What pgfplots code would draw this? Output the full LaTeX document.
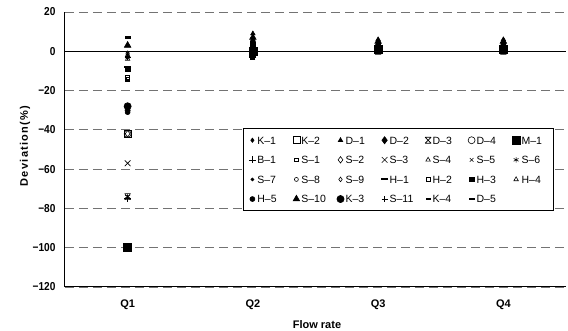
\documentclass[border=0pt]{standalone}
\usepackage{pgfplots}
\pgfplotsset{compat=1.18}
\usepackage{fontspec}
\setmainfont{Liberation Sans}
\newfontfamily\tickfont[FakeStretch=0.88]{Liberation Sans}
\newfontfamily\ylabfont[LetterSpace=12]{Liberation Sans}
\pgfdeclareplotmark{xbar}{%
  \pgfpathmoveto{\pgfqpoint{-\pgfplotmarksize}{-\pgfplotmarksize}}%
  \pgfpathlineto{\pgfqpoint{\pgfplotmarksize}{\pgfplotmarksize}}%
  \pgfpathmoveto{\pgfqpoint{-\pgfplotmarksize}{\pgfplotmarksize}}%
  \pgfpathlineto{\pgfqpoint{\pgfplotmarksize}{-\pgfplotmarksize}}%
  \pgfpathmoveto{\pgfqpoint{-\pgfplotmarksize}{\pgfplotmarksize}}%
  \pgfpathlineto{\pgfqpoint{\pgfplotmarksize}{\pgfplotmarksize}}%
  \pgfpathmoveto{\pgfqpoint{-\pgfplotmarksize}{-\pgfplotmarksize}}%
  \pgfpathlineto{\pgfqpoint{\pgfplotmarksize}{-\pgfplotmarksize}}%
  \pgfusepathqstroke}
\pgfplotsset{pt/.style={black,/tikz/only marks,mark options={solid,line width=0.6pt}}}
\begin{document}
\begin{tikzpicture}
\begin{axis}[
  scale only axis, width=501pt, height=275pt,
  at={(0pt,0pt)}, anchor=south west,
  xmin=0.5, xmax=4.5, ymin=-120, ymax=20,
  xtick={1,2,3,4}, xticklabels={Q1,Q2,Q3,Q4},
  ytick={-120,-100,-80,-60,-40,-20,20},
  yticklabels={−120,−100,−80,−60,−40,−20,20},
  extra y ticks={0}, extra y tick labels={0},
  extra y tick style={grid style={solid,black,line width=0.8pt}},
  axis x line=bottom, axis y line=left,
  axis line style={-,black,line width=1pt},
  ymajorgrids,
  grid style={black!55,line width=0.8pt,dash pattern=on 9pt off 5pt},
  major tick length=0pt,
  xticklabel style={font=\bfseries\fontsize{11}{13}\selectfont,anchor=center,yshift=-18pt},
  yticklabel style={font=\tickfont\bfseries\fontsize{11.5}{13}\selectfont,anchor=east,xshift=-6pt},
  xlabel={Flow rate}, ylabel={Deviation(\%)},
  every axis x label/.style={at={(axis description cs:0.503,-0.138)},anchor=center,font=\bfseries\fontsize{11}{13}\selectfont},
  every axis y label/.style={at={(axis description cs:-0.08,0.513)},anchor=center,rotate=90,font=\ylabfont\bfseries\fontsize{11}{13}\selectfont},
  legend columns=7,
  legend cell align=left,
  legend image code/.code={\draw[mark repeat=2,mark phase=2,#1] plot coordinates {(0pt,0pt)(2pt,0pt)(4pt,0pt)};},
  legend style={at={(axis description cs:0.3553,0.578)},anchor=north west,
    draw=black,line width=0.8pt,fill=white,inner xsep=5.5pt,inner ysep=6pt,
    font=\fontsize{10.5}{12}\selectfont,row sep=8pt,
    nodes={text width=25pt,inner xsep=1.5pt,inner ysep=2pt,text height=7.6pt,text depth=0pt},
    /tikz/every even column/.append style={column sep=9pt}},
]
\addplot[pt,mark=diamond*,mark size=2.2] coordinates {(1,-29)(2,1)(3,1)(4,1)};
\addlegendentry{K–1}
\addplot[pt,mark=square,mark size=3.5] coordinates {(1,-42)(2,0)(3,1)(4,1)};
\addlegendentry{K–2}
\addplot[pt,mark=triangle*,mark size=2.6] coordinates {(1,3)(2,9)(3,6)(4,6)};
\addlegendentry{D–1}
\addplot[pt,mark=diamond*,mark size=3.6] coordinates {(1,-30)(2,2)(3,2)(4,2)};
\addlegendentry{D–2}
\addplot[pt,mark=xbar,mark size=3] coordinates {(1,-74)(2,-1)(3,0)(4,0)};
\addlegendentry{D–3}
\addplot[pt,mark=o,mark size=3.5] coordinates {(1,-42)(2,1)(3,2)(4,1)};
\addlegendentry{D–4}
\addplot[pt,mark=square*,mark size=4] coordinates {(1,-100)(2,0)(3,1)(4,1)};
\addlegendentry{M–1}
\addplot[pt,mark=+,mark size=3.5] coordinates {(1,-75)(2,2)(3,1)(4,2)};
\addlegendentry{B–1}
\addplot[pt,mark=square,mark size=1.8] coordinates {(1,-14)(2,-3)(3,0)(4,0)};
\addlegendentry{S–1}
\addplot[pt,mark=diamond,mark size=3.2] coordinates {(1,-42)(2,3)(3,2)(4,2)};
\addlegendentry{S–2}
\addplot[pt,mark=x,mark size=4] coordinates {(1,-57)(2,1)(3,1)(4,1)};
\addlegendentry{S–3}
\addplot[pt,mark=triangle,mark size=2.6] coordinates {(1,-2)(2,0)(3,1)(4,1)};
\addlegendentry{S–4}
\addplot[pt,mark=x,mark size=2.6] coordinates {(1,-1)(2,-1)(3,0)(4,0)};
\addlegendentry{S–5}
\addplot[pt,mark=asterisk,mark size=2.8] coordinates {(1,-74)(2,0)(3,1)(4,0)};
\addlegendentry{S–6}
\addplot[pt,mark=*,mark size=1.5] coordinates {(1,-28)(2,4)(3,3)(4,3)};
\addlegendentry{S–7}
\addplot[pt,mark=o,mark size=2] coordinates {(1,-3)(2,2)(3,1)(4,1)};
\addlegendentry{S–8}
\addplot[pt,mark=diamond,mark size=2.3] coordinates {(1,-1)(2,1)(3,1)(4,2)};
\addlegendentry{S–9}
\addplot[pt,mark=-,mark size=3.5,mark options={line width=2pt}] coordinates {(1,-8)(2,-3)(3,-1)(4,-1)};
\addlegendentry{H–1}
\addplot[pt,mark=square,mark size=2] coordinates {(1,-13)(2,2)(3,2)(4,2)};
\addlegendentry{H–2}
\addplot[pt,mark=square*,mark size=2.2] coordinates {(1,-9)(2,3)(3,3)(4,3)};
\addlegendentry{H–3}
\addplot[pt,mark=triangle,mark size=2.6] coordinates {(1,-4)(2,1)(3,0)(4,1)};
\addlegendentry{H–4}
\addplot[pt,mark=*,mark size=2.5] coordinates {(1,-31)(2,5)(3,3)(4,3)};
\addlegendentry{H–5}
\addplot[pt,mark=triangle*,mark size=3.8] coordinates {(1,3)(2,7)(3,5)(4,5)};
\addlegendentry{S–10}
\addplot[pt,mark=*,mark size=3.6] coordinates {(1,-28)(2,0)(3,2)(4,2)};
\addlegendentry{K–3}
\addplot[pt,mark=+,mark size=3] coordinates {(1,-3)(2,3)(3,3)(4,3)};
\addlegendentry{S–11}
\addplot[pt,mark=-,mark size=2.5,mark options={line width=2.4pt}] coordinates {(1,-15)(2,-4)(3,-1)(4,-1)};
\addlegendentry{K–4}
\addplot[pt,mark=-,mark size=3,mark options={line width=2.2pt}] coordinates {(1,7)(2,4)(3,2)(4,2)};
\addlegendentry{D–5}
\end{axis}
\pgfresetboundingbox
\path (-65pt,-44pt) rectangle (503pt,287pt);
\end{tikzpicture}
\end{document}
